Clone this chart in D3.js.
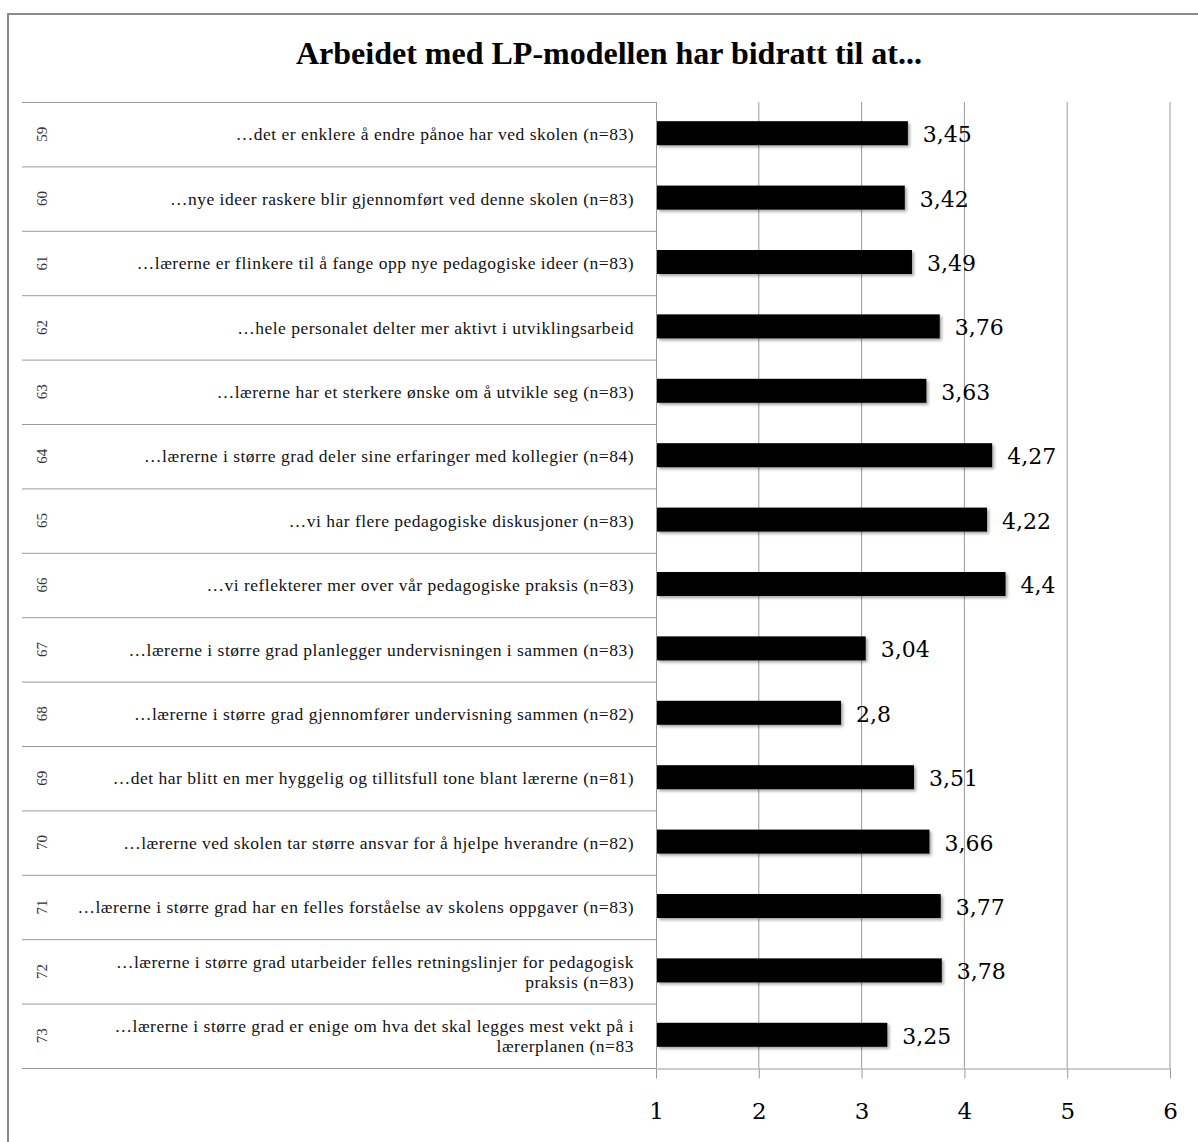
<!DOCTYPE html>
<html>
<head>
<meta charset="utf-8">
<script src="https://cdn.jsdelivr.net/npm/d3@7"></script>
<style>
  html, body { margin: 0; padding: 0; background: #fff; }
  svg { display: block; }
</style>
</head>
<body>
<script>
// Item numbers, statements and mean scores
const itemNumbers = ["59","60","61","62","63","64","65","66","67","68","69","70","71","72","73"];
const statements = [
  "…det er enklere å endre pånoe har ved skolen (n=83)",
  "…nye ideer raskere blir gjennomført ved denne skolen (n=83)",
  "…lærerne er flinkere til å fange opp nye pedagogiske ideer (n=83)",
  "…hele personalet delter mer aktivt i utviklingsarbeid",
  "…lærerne har et sterkere ønske om å utvikle seg (n=83)",
  "…lærerne i større grad deler sine erfaringer med kollegier (n=84)",
  "…vi har flere pedagogiske diskusjoner (n=83)",
  "…vi reflekterer mer over vår pedagogiske praksis (n=83)",
  "…lærerne i større grad planlegger undervisningen i sammen (n=83)",
  "…lærerne i større grad gjennomfører undervisning sammen (n=82)",
  "…det har blitt en mer hyggelig og tillitsfull tone blant lærerne (n=81)",
  "…lærerne ved skolen tar større ansvar for å hjelpe hverandre (n=82)",
  "…lærerne i større grad har en felles forståelse av skolens oppgaver (n=83)",
  "…lærerne i større grad utarbeider felles retningslinjer for pedagogisk\npraksis (n=83)",
  "…lærerne i større grad er enige om hva det skal legges mest vekt på i\nlærerplanen (n=83"
];
const meanScores = [3.45, 3.42, 3.49, 3.76, 3.63, 4.27, 4.22, 4.4, 3.04, 2.8, 3.51, 3.66, 3.77, 3.78, 3.25];
const xTicks = [1, 2, 3, 4, 5, 6];
const titleText = "Arbeidet med LP-modellen har bidratt til at...";

const W = 1198, H = 1142;
const serif = "'Liberation Serif', 'Times New Roman', serif";
const numFont = "'DejaVu Serif', serif";

const svg = d3.select("body").append("svg").attr("width", W).attr("height", H);

// soft shadow under bars
const defs = svg.append("defs");
const f = defs.append("filter").attr("id", "barShadow")
  .attr("x", "-5%").attr("y", "-30%").attr("width", "115%").attr("height", "180%");
f.append("feDropShadow").attr("dx", 2).attr("dy", 2).attr("stdDeviation", 1.5)
  .attr("flood-color", "#000").attr("flood-opacity", 0.35);

// outer frame
svg.append("path").attr("d", `M8,${H} L8,14 L${W},14`)
  .attr("fill", "none").attr("stroke", "#8a8a8a").attr("stroke-width", 2);

// title
svg.append("text").attr("x", 609).attr("y", 64)
  .attr("text-anchor", "middle")
  .style("font-family", serif).style("font-weight", "bold").style("font-size", "32px")
  .text(titleText);

const plotTop = 102, plotBottom = 1068, tableLeft = 22;
const x = d3.scaleLinear().domain([1, 6]).range([656, 1170]);
const y = d3.scaleBand().domain(itemNumbers).range([plotTop, plotBottom]).paddingInner(0).paddingOuter(0);

// vertical grid lines
svg.append("g").selectAll("line").data(xTicks.slice(1)).join("line")
  .attr("x1", d => x(d)).attr("x2", d => x(d))
  .attr("y1", plotTop).attr("y2", plotBottom)
  .attr("stroke", "#9a9a9a").attr("stroke-width", 1);

// table row separators (left part)
const rowEdges = itemNumbers.map(d => y(d)).concat([plotBottom]);
svg.append("g").selectAll("line").data(rowEdges).join("line")
  .attr("x1", tableLeft).attr("x2", x(1))
  .attr("y1", d => d + 0.5).attr("y2", d => d + 0.5)
  .attr("stroke", "#9a9a9a").attr("stroke-width", 1);

// bottom axis with ticks
const xAxis = d3.axisBottom(x).tickValues(xTicks).tickFormat(d3.format("d")).tickSize(10).tickSizeOuter(0);
const ax = svg.append("g").attr("transform", `translate(0,${plotBottom + 0.5})`).call(xAxis);
ax.select(".domain").attr("stroke", "#9a9a9a");
ax.selectAll(".tick line").attr("stroke", "#9a9a9a");
ax.selectAll(".tick text")
  .attr("y", 50).attr("dy", null)
  .style("font-family", numFont).style("font-size", "23px").attr("fill", "#000");

// category axis line at value 1
svg.append("line").attr("x1", x(1) + 0.5).attr("x2", x(1) + 0.5)
  .attr("y1", plotTop).attr("y2", plotBottom)
  .attr("stroke", "#9a9a9a").attr("stroke-width", 1);

const barH = 24;
const rows = itemNumbers.map((id, i) => ({ id, label: statements[i], value: meanScores[i] }));

// bars
svg.append("g").selectAll("rect").data(rows).join("rect")
  .attr("x", x(1) + 1)
  .attr("y", d => y(d.id) + y.bandwidth() / 2 - barH / 2 - 1)
  .attr("width", d => x(d.value) - x(1) - 1)
  .attr("height", barH)
  .attr("fill", "#000")
  .attr("filter", "url(#barShadow)");

// value labels
svg.append("g").selectAll("text").data(rows).join("text")
  .attr("x", d => x(d.value) + 15)
  .attr("y", d => y(d.id) + y.bandwidth() / 2)
  .attr("dy", "0.36em")
  .style("font-family", numFont).style("font-size", "22px")
  .text(d => String(d.value).replace(".", ","));

// item numbers, rotated
svg.append("g").selectAll("text").data(rows).join("text")
  .attr("transform", d => `translate(47,${y(d.id) + y.bandwidth() / 2}) rotate(-90)`)
  .attr("text-anchor", "middle")
  .style("font-family", serif).style("font-size", "15px").attr("fill", "#333")
  .text(d => d.id);

// statement labels, right aligned
const lab = svg.append("g").selectAll("text").data(rows).join("text")
  .attr("text-anchor", "end")
  .style("font-family", serif).style("font-size", "17.5px")
  .style("letter-spacing", "0.5px").attr("fill", "#111");
lab.each(function(d) {
  const lines = d.label.split("\n");
  const cy = y(d.id) + y.bandwidth() / 2;
  const lh = 20;
  const t = d3.select(this);
  lines.forEach((ln, i) => {
    t.append("tspan").attr("x", 634)
      .attr("y", cy + (i - (lines.length - 1) / 2) * lh)
      .attr("dy", "0.35em").text(ln);
  });
});
</script>
</body>
</html>
